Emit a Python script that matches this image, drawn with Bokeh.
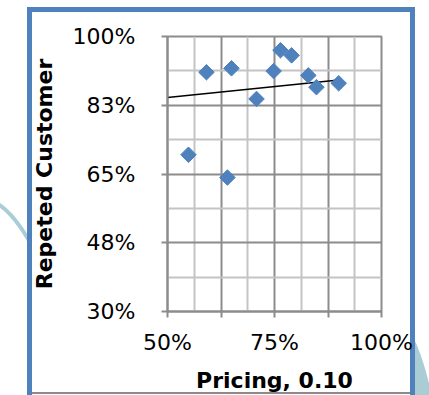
import math
from urllib.parse import quote
from bokeh.plotting import figure
from bokeh.models import Range1d, FixedTicker
from bokeh.embed import file_html
from bokeh.resources import INLINE

# Pricing (x, %) vs. repeated customers (y, %)
pricing = [59.1, 54.9, 64.95, 76.4, 79.0, 74.8, 82.9, 84.8, 90.0, 70.8, 64.0]
repeat = [90.9, 69.9, 91.9, 96.5, 95.2, 91.2, 90.1, 87.1, 88.1, 84.1, 64.1]

# linear trend line end points
trend_x = [50, 90]
trend_y = [84.5, 88.9]

x_tick_vals = [50, 62.5, 75, 87.5, 100]
x_tick_labels = ["50%", "", "75%", "", "100%"]
x_minor_vals = [56.25, 68.75, 81.25, 93.75]
y_tick_vals = [30, 47.5, 65, 82.5, 100]
y_tick_labels = ["30%", "48%", "65%", "83%", "100%"]
y_minor_vals = [38.75, 56.25, 73.75, 91.25]

BLUE = "#4F81BD"
TEAL = "#A9CCD5"
FONT = "DejaVu Sans"

p = figure(width=429, height=395, output_backend="svg", toolbar_location=None,
           x_range=Range1d(50, 100), y_range=Range1d(30, 100),
           min_border_left=167, min_border_right=48,
           min_border_top=36, min_border_bottom=82)
p.background_fill_color = "white"
p.border_fill_color = None
p.outline_line_color = "#8c8c8c"
p.outline_line_width = 2

# slide backdrop behind the canvas: teal swooshes and the blue chart-area frame
backdrop = (
    "<svg xmlns='http://www.w3.org/2000/svg' width='429' height='395'>"
    "<rect width='429' height='395' fill='white'/>"
    f"<path d='M -2 204 Q 14 214 31 244' stroke='{TEAL}' stroke-width='4' fill='none'/>"
    f"<path d='M 411 333 Q 423 355 431 392 L 431 397 L 411 397 Z' fill='{TEAL}'/>"
    f"<rect x='29.5' y='9.5' width='383' height='400' fill='white' stroke='{BLUE}' stroke-width='5'/>"
    "<line x1='32' y1='393' x2='410' y2='393' stroke='#8a8a8a' stroke-width='2'/>"
    "</svg>"
)
p.styles = {
    "background-image": f"url(\"data:image/svg+xml;utf8,{quote(backdrop)}\")",
    "background-repeat": "no-repeat",
}

# axes
for ax, vals, labels, minors in ((p.xaxis[0], x_tick_vals, x_tick_labels, x_minor_vals),
                                 (p.yaxis[0], y_tick_vals, y_tick_labels, y_minor_vals)):
    ax.ticker = FixedTicker(ticks=vals, minor_ticks=minors)
    ax.major_label_overrides = {v: l for v, l in zip(vals, labels)}
    ax.axis_line_color = "#8c8c8c"
    ax.axis_line_width = 2
    ax.major_tick_line_color = "#8c8c8c"
    ax.major_tick_line_width = 2
    ax.major_tick_in = 0
    ax.major_tick_out = 6
    ax.minor_tick_line_color = None
    ax.major_label_text_font = FONT
    ax.major_label_text_font_size = "22px"
    ax.major_label_text_color = "black"
    ax.axis_label_text_font = FONT
    ax.axis_label_text_font_size = "22px"
    ax.axis_label_text_font_style = "bold"
    ax.axis_label_text_color = "black"

p.xaxis.axis_label = "Pricing, 0.10"
p.yaxis.axis_label = "Repeted Customer"
p.yaxis.major_label_standoff = 26
p.xaxis.major_label_standoff = 12
p.yaxis.axis_label_standoff = 13
p.xaxis.axis_label_standoff = 10

for g, vals, minors in ((p.xgrid[0], x_tick_vals, x_minor_vals),
                        (p.ygrid[0], y_tick_vals, y_minor_vals)):
    g.ticker = FixedTicker(ticks=vals, minor_ticks=minors)
    g.grid_line_color = "#8c8c8c"
    g.grid_line_width = 2
    g.minor_grid_line_color = "#c4c4c4"
    g.minor_grid_line_width = 2

# trend line and points
p.line(trend_x, trend_y, line_color="black", line_width=1.5)
p.scatter(pricing, repeat, marker="square", angle=math.pi / 4, size=11,
          fill_color=BLUE, line_color=BLUE)

open("out.html", "w").write(file_html(p, INLINE))
